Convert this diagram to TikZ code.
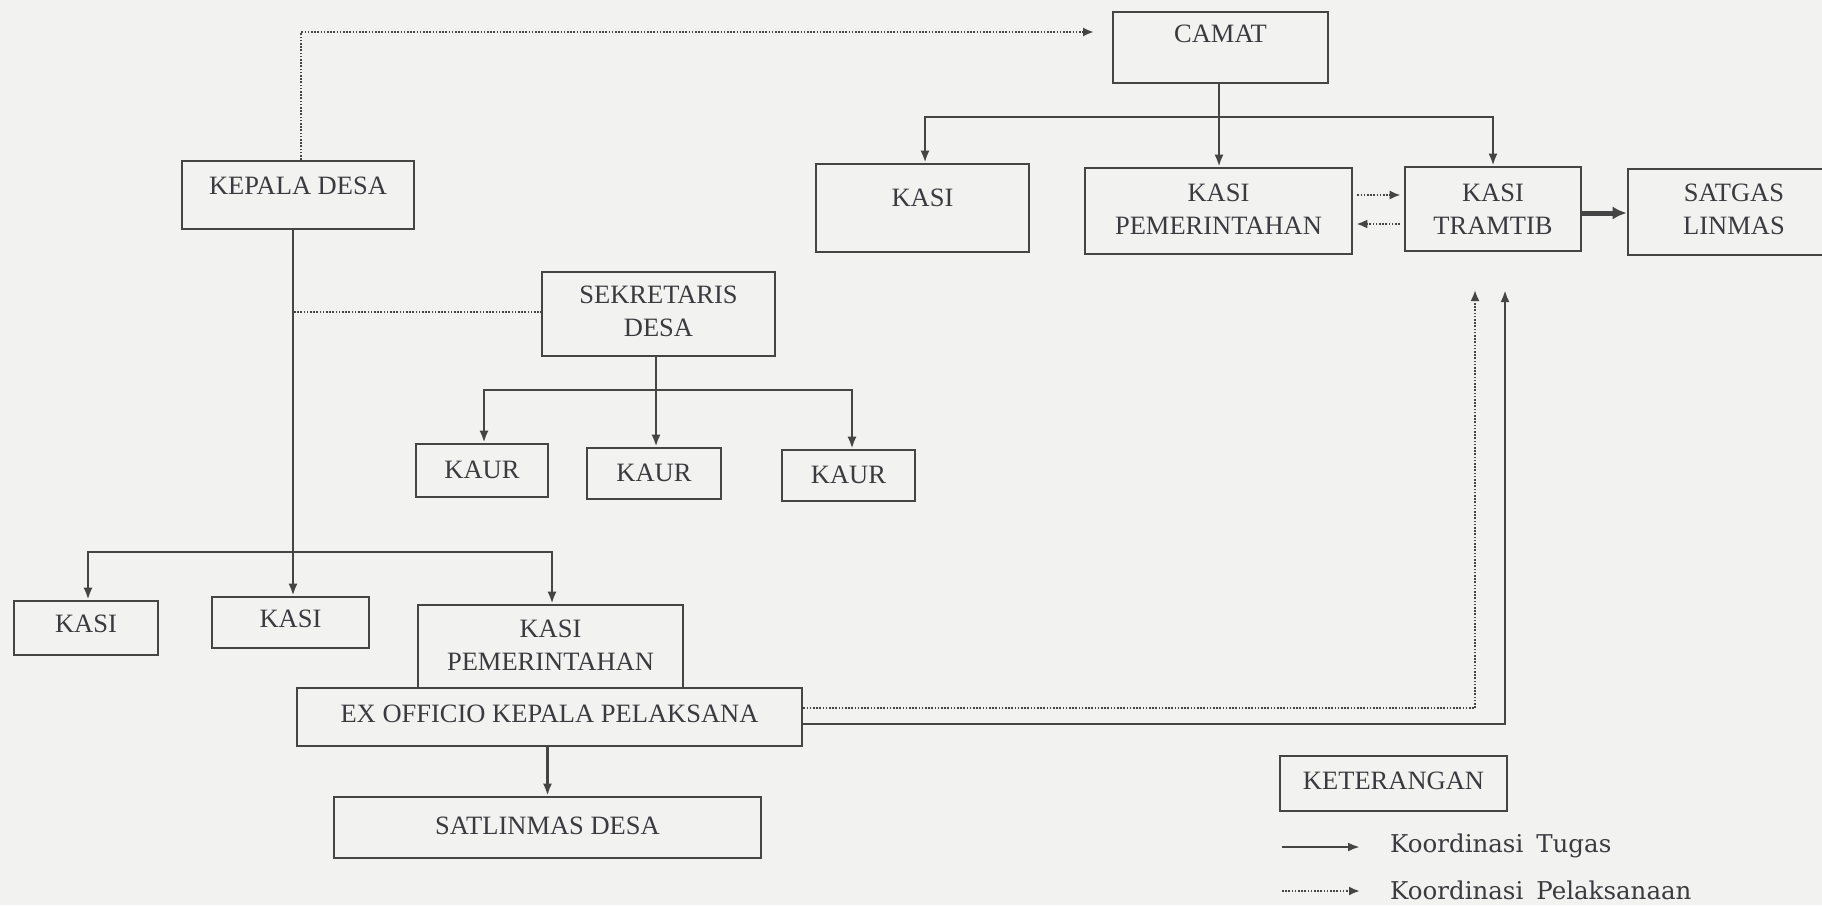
\documentclass[tikz,border=0pt]{standalone}
\usepackage{fontspec}
\setmainfont{Liberation Serif}
\newfontfamily\legfont{DejaVu Serif}
\usetikzlibrary{arrows.meta}
\definecolor{paper}{HTML}{F2F2F0}
\definecolor{ink}{HTML}{3A3A40}
\definecolor{lineink}{HTML}{454545}
\tikzset{
  tip/.style={-{Latex[length=12pt,width=9pt]}},
  box/.style={draw=lineink, line width=2.6pt, rectangle, inner sep=0pt},
  txt/.style={text=ink, font=\fontsize{26.5}{33}\selectfont, align=center, inner sep=0pt},
  conn/.style={draw=lineink, line width=2.4pt, tip},
  plain/.style={draw=lineink, line width=2.4pt, line cap=rect},
  dotline/.style={draw=lineink, line width=2.6pt, dash pattern=on 1.6pt off 1.6pt},
  dotarrow/.style={dotline, -{Latex[length=11pt,width=9pt]}},
  thickarrow/.style={draw=lineink, line width=5pt, -{Latex[length=14pt,width=13pt]}},
  legtxt/.style={text=ink, font=\legfont\fontsize{24.5}{28}\selectfont, anchor=west, inner sep=0pt}
}
\begin{document}
\begin{tikzpicture}[x=1pt,y=-1pt]
\fill[paper] (0,0) rectangle (1822,905);
\path[use as bounding box] (0,0) rectangle (1822,905);
\clip (0,0) rectangle (1822,905);

% ---- boxes ----
\node[box, minimum width=215pt, minimum height=71pt] (camat) at (1220.5,47.5) {};
\node[txt] (camatT) at (1220.5,34) {CAMAT};

\node[box, minimum width=232pt, minimum height=68pt] (kd) at (298,195) {};
\node[txt] (kdT) at (298,186) {KEPALA DESA};

\node[box, minimum width=213pt, minimum height=88pt] (kasiR) at (922.5,208) {};
\node[txt] (kasiRT) at (922.5,198) {KASI};

\node[box, minimum width=267pt, minimum height=86pt] (kpR) at (1218.5,211) {};
\node[txt] (kpRT) at (1218.5,209) {KASI\\PEMERINTAHAN};

\node[box, minimum width=176pt, minimum height=84pt] (tramtib) at (1493,209) {};
\node[txt] (tramtibT) at (1493,209) {KASI\\TRAMTIB};

\node[box, minimum width=212pt, minimum height=86pt] (satgas) at (1734,212) {};
\node[txt] (satgasT) at (1734,209) {SATGAS\\LINMAS};

\node[box, minimum width=233pt, minimum height=84pt] (sek) at (658.5,314) {};
\node[txt] (sekT) at (658.5,311) {SEKRETARIS\\DESA};

\node[box, minimum width=132pt, minimum height=53pt] (kaur1) at (482,470.5) {};
\node[txt] (kaur1T) at (482,470) {KAUR};
\node[box, minimum width=134pt, minimum height=51pt] (kaur2) at (654,473.5) {};
\node[txt] (kaur2T) at (654,473) {KAUR};
\node[box, minimum width=133pt, minimum height=51pt] (kaur3) at (848.5,475.5) {};
\node[txt] (kaur3T) at (848.5,475) {KAUR};

\node[box, minimum width=144pt, minimum height=54pt] (kasi1) at (86,628) {};
\node[txt] (kasi1T) at (86,624) {KASI};
\node[box, minimum width=157pt, minimum height=51pt] (kasi2) at (290.5,622.5) {};
\node[txt] (kasi2T) at (290.5,619) {KASI};

\node[box, minimum width=265pt, minimum height=83pt] (kpL) at (550.5,646.5) {};
\node[txt] (kpLT) at (550.5,645.5) {KASI\\PEMERINTAHAN};

\node[box, minimum width=505pt, minimum height=58pt] (exo) at (549.5,717) {};
\node[txt] (exoT) at (549.5,714) {EX OFFICIO KEPALA PELAKSANA};

\node[box, minimum width=427pt, minimum height=61pt] (satl) at (547.5,827.5) {};
\node[txt] (satlT) at (547.5,826) {SATLINMAS DESA};

\node[box, minimum width=227pt, minimum height=55pt] (ket) at (1393.5,783.5) {};
\node[txt] (ketT) at (1393.5,781) {KETERANGAN};

% ---- coordinates ----
\coordinate (camatin) at (1094,32);
\coordinate (cbl) at (925,117);
\coordinate (cbm) at (1219,117);
\coordinate (cbr) at (1493,117);
\coordinate (sbl) at (484,390);
\coordinate (sbm) at (656,390);
\coordinate (sbr) at (852,390);
\coordinate (kbl) at (88,552);
\coordinate (kbm) at (293,552);
\coordinate (kbr) at (552,552);
\coordinate (dl) at (294,312);
\coordinate (dotup) at (1475,290);
\coordinate (solup) at (1505,290);

% ---- connectors ----
\draw[dotarrow] ([xshift=3pt]kd.north) |- (camatin);

\draw[conn] (camat.south -| cbm) -- (cbm |- kpR.north);
\draw[plain] (cbl) -- (cbr);
\draw[conn] (cbl) -- (cbl |- kasiR.north);
\draw[conn] (cbr) -- (cbr |- tramtib.north);

\draw[dotarrow, shorten <=4pt, shorten >=3pt] ([yshift=16pt]kpR.east) -- ([yshift=16pt]kpR.east -| tramtib.west);
\draw[dotarrow, shorten <=4pt, shorten >=3pt] ([yshift=-13pt]kpR.east -| tramtib.west) -- ([yshift=-13pt]kpR.east);
\draw[thickarrow] ([yshift=-4pt]tramtib.east) -- ([yshift=-4pt]tramtib.east -| satgas.west);

\draw[conn] (kd.south -| kbm) -- (kbm |- kasi2.north);
\draw[dotline] (dl) -- (dl -| sek.west);

\draw[conn] (sek.south -| sbm) -- (sbm |- kaur2.north);
\draw[plain] (sbl) -- (sbr);
\draw[conn] (sbl) -- (sbl |- kaur1.north);
\draw[conn] (sbr) -- (sbr |- kaur3.north);

\draw[plain] (kbl) -- (kbr);
\draw[conn] (kbl) -- (kbl |- kasi1.north);
\draw[conn] (kbr) -- (kbr |- kpL.north);

\draw[conn] (satl.north |- exo.south) -- (satl.north);

\draw[dotarrow] (exo.east |- 0,708) -| (dotup);
\draw[conn] (exo.east |- 0,724) -| (solup);

% ---- legend ----
\coordinate (l1a) at (1282,847);
\coordinate (l1b) at (1360,847);
\coordinate (l2a) at (1282,891);
\coordinate (l2b) at (1360,891);
\draw[conn] (l1a) -- (l1b);
\draw[dotarrow] (l2a) -- (l2b);
\node[legtxt] (leg1) at (1390,846) {Koordinasi\hspace{13pt}Tugas};
\node[legtxt] (leg2) at (1390,890) {Koordinasi\hspace{13pt}Pelaksanaan};
\end{tikzpicture}
\end{document}
